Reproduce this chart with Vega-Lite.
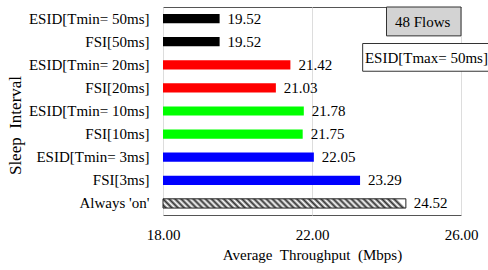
{
  "$schema": "https://vega.github.io/schema/vega-lite/v6.json",
  "width": 298,
  "height": 208,
  "autosize": {"type": "none"},
  "padding": {"left": 163, "top": 7, "right": 27, "bottom": 55},
  "background": "white",
  "config": {
    "font": "Liberation Serif, Times New Roman, serif",
    "view": {"stroke": "#555", "strokeWidth": 1},
    "axis": {
      "labelFont": "Liberation Serif, Times New Roman, serif",
      "titleFont": "Liberation Serif, Times New Roman, serif",
      "labelFontSize": 15,
      "titleFontSize": 15,
      "labelColor": "#000",
      "titleColor": "#000",
      "titleFontWeight": "normal",
      "ticks": false,
      "domain": false
    }
  },
  "data": {
    "values": [
      {"cat": "ESID[Tmin= 50ms]", "value": 19.52, "group": "50"},
      {"cat": "FSI[50ms]", "value": 19.52, "group": "50"},
      {"cat": "ESID[Tmin= 20ms]", "value": 21.42, "group": "20"},
      {"cat": "FSI[20ms]", "value": 21.03, "group": "20"},
      {"cat": "ESID[Tmin= 10ms]", "value": 21.78, "group": "10"},
      {"cat": "FSI[10ms]", "value": 21.75, "group": "10"},
      {"cat": "ESID[Tmin= 3ms]", "value": 22.05, "group": "3"},
      {"cat": "FSI[3ms]", "value": 23.29, "group": "3"},
      {"cat": "Always 'on'", "value": 24.52, "group": "on"}
    ]
  },
  "layer": [
    {
      "layer": [
        {
          "mark": {"type": "bar", "strokeWidth": 1},
          "encoding": {
            "y": {
              "field": "cat",
              "type": "nominal",
              "sort": null,
              "scale": {"paddingInner": 0.6, "paddingOuter": 0.3},
              "axis": {"title": "Sleep\u00a0 Interval", "titleFontSize": 17, "titleY": 118, "labelPadding": 14, "titlePadding": 4, "grid": false}
            },
            "x": {
              "field": "value",
              "type": "quantitative",
              "scale": {"domain": [18, 26], "zero": false, "nice": false},
              "axis": {
                "title": "Average\u00a0 Throughput\u00a0 (Mbps)",
                "values": [18, 22, 26],
                "format": ".2f",
                "grid": true,
                "gridColor": "#dddddd",
                "labelFlush": false,
                "labelPadding": 12,
                "titlePadding": 5
              }
            },
            "x2": {"datum": 18},
            "fill": {
              "condition": {
                "test": "datum.group === 'on'",
                "value": {
                  "gradient": "linear",
                  "x1": 0, "y1": 1, "x2": 1, "y2": 0.962,
                  "stops": [
                    {"offset": 0, "color": "#ffffff"},
                    {"offset": 0.0125, "color": "#333333"},
                    {"offset": 0.025, "color": "#ffffff"},
                    {"offset": 0.0375, "color": "#333333"},
                    {"offset": 0.05, "color": "#ffffff"},
                    {"offset": 0.0625, "color": "#333333"},
                    {"offset": 0.075, "color": "#ffffff"},
                    {"offset": 0.0875, "color": "#333333"},
                    {"offset": 0.1, "color": "#ffffff"},
                    {"offset": 0.1125, "color": "#333333"},
                    {"offset": 0.125, "color": "#ffffff"},
                    {"offset": 0.1375, "color": "#333333"},
                    {"offset": 0.15, "color": "#ffffff"},
                    {"offset": 0.1625, "color": "#333333"},
                    {"offset": 0.175, "color": "#ffffff"},
                    {"offset": 0.1875, "color": "#333333"},
                    {"offset": 0.2, "color": "#ffffff"},
                    {"offset": 0.2125, "color": "#333333"},
                    {"offset": 0.225, "color": "#ffffff"},
                    {"offset": 0.2375, "color": "#333333"},
                    {"offset": 0.25, "color": "#ffffff"},
                    {"offset": 0.2625, "color": "#333333"},
                    {"offset": 0.275, "color": "#ffffff"},
                    {"offset": 0.2875, "color": "#333333"},
                    {"offset": 0.3, "color": "#ffffff"},
                    {"offset": 0.3125, "color": "#333333"},
                    {"offset": 0.325, "color": "#ffffff"},
                    {"offset": 0.3375, "color": "#333333"},
                    {"offset": 0.35, "color": "#ffffff"},
                    {"offset": 0.3625, "color": "#333333"},
                    {"offset": 0.375, "color": "#ffffff"},
                    {"offset": 0.3875, "color": "#333333"},
                    {"offset": 0.4, "color": "#ffffff"},
                    {"offset": 0.4125, "color": "#333333"},
                    {"offset": 0.425, "color": "#ffffff"},
                    {"offset": 0.4375, "color": "#333333"},
                    {"offset": 0.45, "color": "#ffffff"},
                    {"offset": 0.4625, "color": "#333333"},
                    {"offset": 0.475, "color": "#ffffff"},
                    {"offset": 0.4875, "color": "#333333"},
                    {"offset": 0.5, "color": "#ffffff"},
                    {"offset": 0.5125, "color": "#333333"},
                    {"offset": 0.525, "color": "#ffffff"},
                    {"offset": 0.5375, "color": "#333333"},
                    {"offset": 0.55, "color": "#ffffff"},
                    {"offset": 0.5625, "color": "#333333"},
                    {"offset": 0.575, "color": "#ffffff"},
                    {"offset": 0.5875, "color": "#333333"},
                    {"offset": 0.6, "color": "#ffffff"},
                    {"offset": 0.6125, "color": "#333333"},
                    {"offset": 0.625, "color": "#ffffff"},
                    {"offset": 0.6375, "color": "#333333"},
                    {"offset": 0.65, "color": "#ffffff"},
                    {"offset": 0.6625, "color": "#333333"},
                    {"offset": 0.675, "color": "#ffffff"},
                    {"offset": 0.6875, "color": "#333333"},
                    {"offset": 0.7, "color": "#ffffff"},
                    {"offset": 0.7125, "color": "#333333"},
                    {"offset": 0.725, "color": "#ffffff"},
                    {"offset": 0.7375, "color": "#333333"},
                    {"offset": 0.75, "color": "#ffffff"},
                    {"offset": 0.7625, "color": "#333333"},
                    {"offset": 0.775, "color": "#ffffff"},
                    {"offset": 0.7875, "color": "#333333"},
                    {"offset": 0.8, "color": "#ffffff"},
                    {"offset": 0.8125, "color": "#333333"},
                    {"offset": 0.825, "color": "#ffffff"},
                    {"offset": 0.8375, "color": "#333333"},
                    {"offset": 0.85, "color": "#ffffff"},
                    {"offset": 0.8625, "color": "#333333"},
                    {"offset": 0.875, "color": "#ffffff"},
                    {"offset": 0.8875, "color": "#333333"},
                    {"offset": 0.9, "color": "#ffffff"},
                    {"offset": 0.9125, "color": "#333333"},
                    {"offset": 0.925, "color": "#ffffff"},
                    {"offset": 0.9375, "color": "#333333"},
                    {"offset": 0.95, "color": "#ffffff"},
                    {"offset": 0.9625, "color": "#333333"},
                    {"offset": 0.975, "color": "#ffffff"},
                    {"offset": 0.9875, "color": "#333333"},
                    {"offset": 1, "color": "#ffffff"}
                  ]
                }
              },
              "field": "group",
              "type": "nominal",
              "scale": {"domain": ["50", "20", "10", "3"], "range": ["#000000", "#ff0000", "#00ff00", "#0000ff"]},
              "legend": null
            },
            "stroke": {
              "condition": {"test": "datum.group === 'on'", "value": "#222222"},
              "value": "transparent"
            }
          }
        },
        {
          "mark": {"type": "text", "align": "left", "baseline": "middle", "dx": 8, "fontSize": 15, "font": "Liberation Serif, Times New Roman, serif", "color": "#000"},
          "encoding": {
            "y": {"field": "cat", "type": "nominal", "sort": null},
            "x": {"field": "value", "type": "quantitative"},
            "text": {"field": "value", "type": "quantitative", "format": ".2f"}
          }
        }
      ]
    },
    {
      "data": {"values": [{"label": "48 Flows", "label2": "ESID[Tmax= 50ms]"}]},
      "layer": [
        {
          "mark": {"type": "rect", "fill": "#d3d3d3", "stroke": "#333333", "strokeWidth": 1},
          "encoding": {
            "x": {"datum": 24.0, "type": "quantitative"},
            "x2": {"datum": 26.0},
            "y": {"datum": 0, "type": "quantitative", "scale": {"domain": [0, 9], "reverse": true, "nice": false, "zero": false}, "axis": null},
            "y2": {"datum": 1.25}
          }
        },
        {
          "mark": {"type": "text", "align": "center", "baseline": "middle", "fontSize": 15, "font": "Liberation Serif, Times New Roman, serif", "color": "#000"},
          "encoding": {
            "x": {"datum": 24.97, "type": "quantitative"},
            "y": {"datum": 0.63, "type": "quantitative", "scale": {"domain": [0, 9], "reverse": true, "nice": false, "zero": false}, "axis": null},
            "text": {"field": "label"}
          }
        },
        {
          "mark": {"type": "rect", "fill": "#ffffff", "stroke": "#333333", "strokeWidth": 1},
          "encoding": {
            "x": {"datum": 23.36, "type": "quantitative"},
            "x2": {"datum": 26.75},
            "y": {"datum": 1.58, "type": "quantitative", "scale": {"domain": [0, 9], "reverse": true, "nice": false, "zero": false}, "axis": null},
            "y2": {"datum": 2.78}
          }
        },
        {
          "mark": {"type": "text", "align": "left", "baseline": "middle", "fontSize": 15, "font": "Liberation Serif, Times New Roman, serif", "color": "#000"},
          "encoding": {
            "x": {"datum": 23.42, "type": "quantitative"},
            "y": {"datum": 2.2, "type": "quantitative", "scale": {"domain": [0, 9], "reverse": true, "nice": false, "zero": false}, "axis": null},
            "text": {"field": "label2"}
          }
        }
      ]
    }
  ],
  "resolve": {"scale": {"y": "independent"}}
}
